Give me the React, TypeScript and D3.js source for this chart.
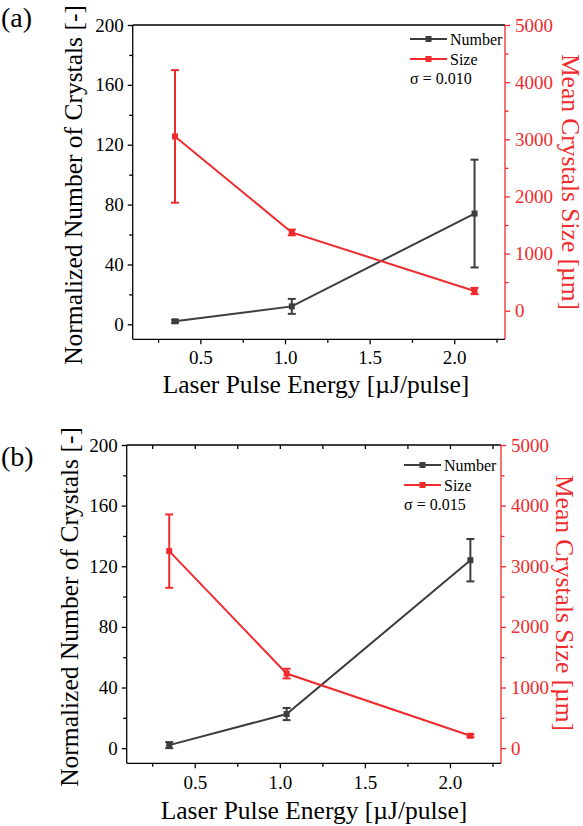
import { useEffect, useRef } from "react";
import * as d3 from "d3";

// x values (laser pulse energy, µJ/pulse)
const energy = [0.35, 1.04, 2.12];
const xTicks = [0.5, 1.0, 1.5, 2.0];
const xMinorTicks = [0.25, 0.75, 1.25, 1.75, 2.25];
const numberTicks = [0, 40, 80, 120, 160, 200];
const numberMinorTicks = [20, 60, 100, 140, 180];
const sizeTicks = [0, 1000, 2000, 3000, 4000, 5000];
const sizeMinorTicks = [500, 1500, 2500, 3500, 4500];

// panel (a), sigma = 0.010
const numberA = [2, 12, 74];
const numberAErr = [1, 5, 36];
const sizeA = [3050, 1370, 345];
const sizeAErr = [1160, 50, 55];

// panel (b), sigma = 0.015
const numberB = [2, 22.5, 124];
const numberBErr = [2, 4, 14];
const sizeB = [3250, 1230, 205];
const sizeBErr = [605, 80, 25];

const GRAY = "#3d3d3d";
const RED = "#ef2b2d";
const FONT = "Liberation Serif, Times New Roman, serif";

type PanelCfg = {
  tag: string;
  sigma: string;
  left: number;
  right: number;
  top: number;
  bottom: number;
  sizeMin: number;
  topTicks: boolean;
  number: number[];
  numberErr: number[];
  size: number[];
  sizeErr: number[];
  tagY: number;
  xTitleX: number;
  xTitleY: number;
  xTickPad: number;
  leftTitleX: number;
  leftTitleY: number;
  rightTitleX: number;
  rightTitleY: number;
  legendX: number;
  legendY: number;
};

function drawPanel(svg: d3.Selection<SVGSVGElement, unknown, null, undefined>, c: PanelCfg) {
  const x = d3.scaleLinear().domain([0.1, 2.3]).range([c.left, c.right]);
  const yN = d3.scaleLinear().domain([-10, 200]).range([c.bottom, c.top]);
  const yS = d3.scaleLinear().domain([c.sizeMin, 5000]).range([c.bottom, c.top]);
  const g = svg.append("g").attr("font-family", FONT);

  const styleAxis = (sel: any, color: string, fs: number) => {
    sel.attr("font-family", FONT).attr("font-size", fs);
    sel.select(".domain").remove();
    sel.selectAll("line").attr("stroke", color).attr("stroke-width", 1.3);
    sel.selectAll("text").attr("fill", color);
  };

  // bottom axis, major + minor ticks
  const bx = g.append("g").attr("transform", `translate(0,${c.bottom})`);
  bx.call(d3.axisBottom(x).tickValues(xTicks).tickSize(5).tickPadding(c.xTickPad).tickFormat(d3.format(".1f")));
  styleAxis(bx, "#000", 19);
  const bxm = g.append("g").attr("transform", `translate(0,${c.bottom})`);
  bxm.call(d3.axisBottom(x).tickValues(xMinorTicks).tickSize(3.5).tickFormat(() => ""));
  styleAxis(bxm, "#000", 19);

  if (c.topTicks) {
    const tx = g.append("g").attr("transform", `translate(0,${c.top})`);
    tx.call(d3.axisBottom(x).tickValues([...xTicks, ...xMinorTicks]).tickSize(4).tickFormat(() => ""));
    styleAxis(tx, "#000", 19);
  }

  // left axis
  const ly = g.append("g").attr("transform", `translate(${c.left},0)`);
  ly.call(d3.axisLeft(yN).tickValues(numberTicks).tickSize(5).tickPadding(4));
  styleAxis(ly, "#000", 19);
  const lym = g.append("g").attr("transform", `translate(${c.left},0)`);
  lym.call(d3.axisLeft(yN).tickValues(numberMinorTicks).tickSize(3.5).tickFormat(() => ""));
  styleAxis(lym, "#000", 19);

  // right axis
  const ry = g.append("g").attr("transform", `translate(${c.right},0)`);
  ry.call(d3.axisRight(yS).tickValues(sizeTicks).tickSize(5).tickPadding(5).tickFormat(d3.format("d")));
  styleAxis(ry, RED, 19);
  const rym = g.append("g").attr("transform", `translate(${c.right},0)`);
  rym.call(d3.axisRight(yS).tickValues(sizeMinorTicks).tickSize(3.5).tickFormat(() => ""));
  styleAxis(rym, RED, 19);

  // frame
  g.append("line").attr("x1", c.left).attr("x2", c.right).attr("y1", c.top).attr("y2", c.top)
    .attr("stroke", "#000").attr("stroke-width", 1.3);
  g.append("line").attr("x1", c.left).attr("x2", c.right).attr("y1", c.bottom).attr("y2", c.bottom)
    .attr("stroke", "#000").attr("stroke-width", 1.3);
  g.append("line").attr("x1", c.left).attr("x2", c.left).attr("y1", c.top).attr("y2", c.bottom)
    .attr("stroke", "#000").attr("stroke-width", 1.3);
  g.append("line").attr("x1", c.right).attr("x2", c.right).attr("y1", c.top).attr("y2", c.bottom)
    .attr("stroke", RED).attr("stroke-width", 1.3);

  const series = (vals: number[], errs: number[], y: d3.ScaleLinear<number, number>, color: string) => {
    const pts = energy.map((e, i) => ({ e, v: vals[i], err: errs[i] }));
    const line = d3.line<any>().x(d => x(d.e)).y(d => y(d.v));
    g.append("path").datum(pts).attr("d", line).attr("fill", "none")
      .attr("stroke", color).attr("stroke-width", 2);
    const eb = g.append("g").attr("stroke", color).attr("stroke-width", 2);
    pts.forEach(p => {
      const cx = x(p.e);
      const y1 = y(p.v + p.err);
      const y2 = y(p.v - p.err);
      eb.append("line").attr("x1", cx).attr("x2", cx).attr("y1", y1).attr("y2", y2);
      eb.append("line").attr("x1", cx - 4).attr("x2", cx + 4).attr("y1", y1).attr("y2", y1);
      eb.append("line").attr("x1", cx - 4).attr("x2", cx + 4).attr("y1", y2).attr("y2", y2);
    });
    g.append("g").selectAll("rect").data(pts).enter().append("rect")
      .attr("x", d => x(d.e) - 3).attr("y", d => y(d.v) - 3)
      .attr("width", 6).attr("height", 6).attr("fill", color);
  };
  series(c.number, c.numberErr, yN, GRAY);
  series(c.size, c.sizeErr, yS, RED);

  // legend
  const legend = [
    { label: "Number", color: GRAY },
    { label: "Size", color: RED },
  ];
  legend.forEach((l, i) => {
    const ly0 = c.legendY + i * 20;
    g.append("line").attr("x1", c.legendX).attr("x2", c.legendX + 37).attr("y1", ly0).attr("y2", ly0)
      .attr("stroke", l.color).attr("stroke-width", 2);
    g.append("rect").attr("x", c.legendX + 15.5).attr("y", ly0 - 3).attr("width", 6).attr("height", 6)
      .attr("fill", l.color);
    g.append("text").attr("x", c.legendX + 40).attr("y", ly0 + 5.5).text(l.label)
      .attr("font-size", 16).attr("fill", "#000");
  });
  g.append("text").attr("x", c.legendX).attr("y", c.legendY + 45).text(c.sigma)
    .attr("font-size", 16).attr("fill", "#000");

  // titles
  g.append("text").attr("x", 1).attr("y", c.tagY).text(c.tag)
    .attr("font-size", 28).attr("fill", "#000");
  g.append("text").attr("x", c.xTitleX).attr("y", c.xTitleY).attr("text-anchor", "middle")
    .text("Laser Pulse Energy [µJ/pulse]")
    .attr("font-size", 25.5).attr("fill", "#000");
  g.append("text").attr("transform", `translate(${c.leftTitleX},${c.leftTitleY}) rotate(-90)`)
    .attr("text-anchor", "middle").text("Normalized Number of Crystals [-]")
    .attr("font-size", 25.5).attr("fill", "#000");
  g.append("text").attr("transform", `translate(${c.rightTitleX},${c.rightTitleY}) rotate(90)`)
    .attr("text-anchor", "middle").text("Mean Crystals Size [µm]")
    .attr("font-size", 25.5).attr("fill", RED);
}

export default function App() {
  const ref = useRef<SVGSVGElement>(null);

  useEffect(() => {
    if (!ref.current) return;
    const svg = d3.select(ref.current);
    svg.selectAll("*").remove();

    drawPanel(svg, {
      tag: "(a)", sigma: "σ = 0.010",
      left: 132.7, right: 505, top: 25, bottom: 339.3, sizeMin: -500, topTicks: false,
      number: numberA, numberErr: numberAErr, size: sizeA, sizeErr: sizeAErr,
      tagY: 27, xTitleX: 316, xTitleY: 393, xTickPad: 6,
      leftTitleX: 81.5, leftTitleY: 185, rightTitleX: 561.5, rightTitleY: 182,
      legendX: 410, legendY: 39,
    });

    drawPanel(svg, {
      tag: "(b)", sigma: "σ = 0.015",
      left: 126.7, right: 501, top: 445, bottom: 763.3, sizeMin: -250, topTicks: true,
      number: numberB, numberErr: numberBErr, size: sizeB, sizeErr: sizeBErr,
      tagY: 466, xTitleX: 314, xTitleY: 819, xTickPad: 7,
      leftTitleX: 78, leftTitleY: 607, rightTitleX: 556, rightTitleY: 603,
      legendX: 404, legendY: 465,
    });
  }, []);

  return (
    <svg ref={ref} width={583} height={826}
      style={{ position: "absolute", left: 0, top: 0, background: "#fff" }} />
  );
}
